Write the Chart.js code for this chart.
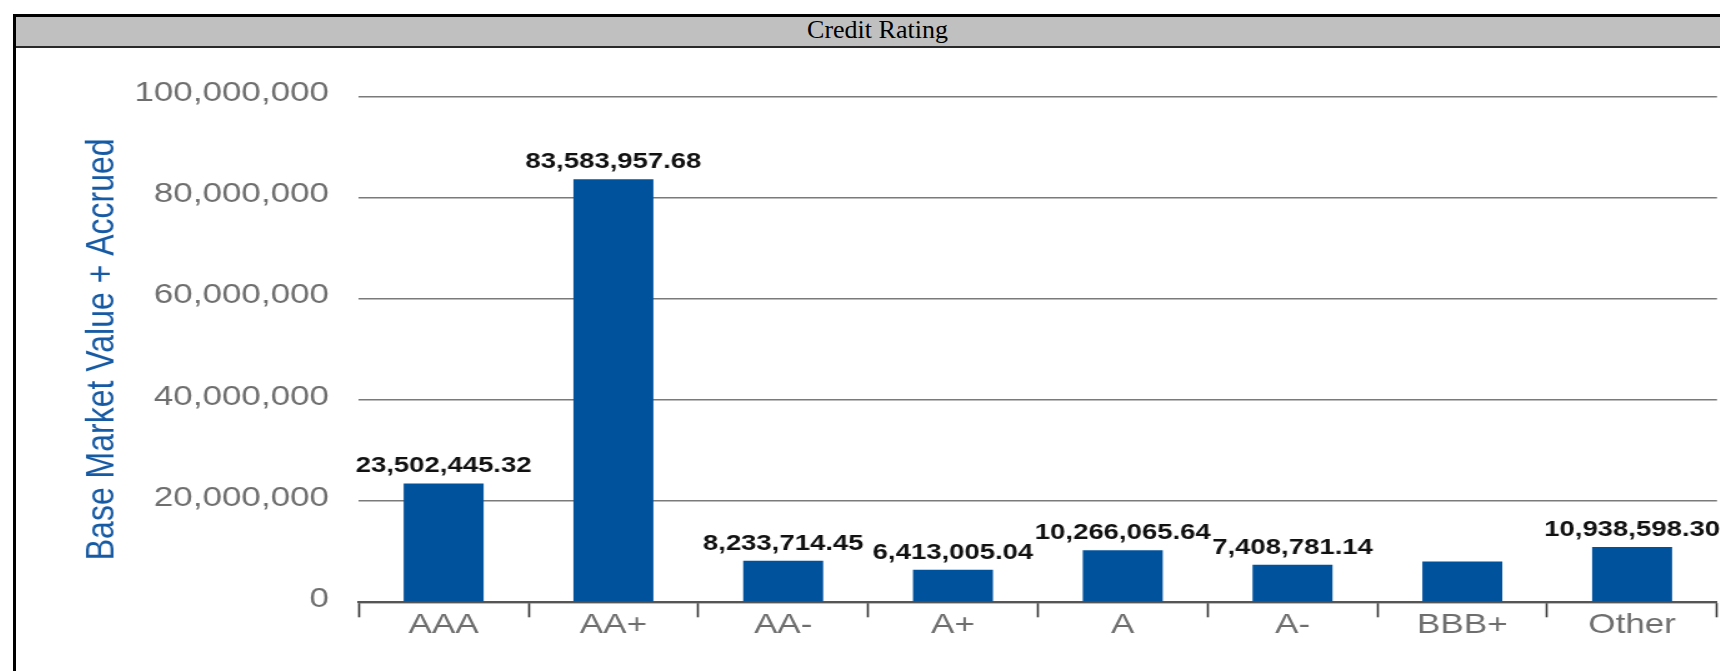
<!DOCTYPE html>
<html>
<head>
<meta charset="utf-8">
<title>Credit Rating</title>
<script src="https://cdn.jsdelivr.net/npm/chart.js@4.4.1/dist/chart.umd.min.js"></script>
<style>
    html, body { margin: 0; padding: 0; background: #fff; overflow: hidden; width: 1720px; height: 671px; }
    #quadro { position: absolute; left: 13px; top: 14px; width: 1730px; height: 700px;
              border-left: 3px solid #000; border-top: 3px solid #000; }
    #titulo { position: absolute; left: 0; top: 0; width: 1723px; height: 29px; background: #c0c0c0;
              border-bottom: 2px solid #2a2a2a; text-align: center; color: #000;
              font-family: "Liberation Serif", "Times New Roman", serif; font-size: 26px; line-height: 25px; }
    #esticado { position: absolute; left: 16px; top: 48px; width: 1380px; height: 623px;
                transform: scaleX(1.25); transform-origin: 0 0; }
</style>
</head>
<body>
<div id="quadro"><div id="titulo">Credit Rating</div></div>
<div id="esticado"><canvas id="graficoRating" width="1380" height="623"></canvas></div>

<script>
/* ============================
      DADOS
============================ */
const categorias = ["AAA", "AA+", "AA-", "A+", "A", "A-", "BBB+", "Other"];
const valores = [23502445.32, 83583957.68, 8233714.45, 6413005.04, 10266065.64, 7408781.14, 8080000, 10938598.30];
const mostrarRotulo = [true, true, true, true, true, true, false, true];
const ticksY = [0, 20000000, 40000000, 60000000, 80000000, 100000000];

const fonte = '"Liberation Sans", Arial, sans-serif';

function formato(v) {
    return v.toLocaleString("en-US", { minimumFractionDigits: 2, maximumFractionDigits: 2 });
}

/* Rótulos em cima das barras */
const rotulos = {
    id: "rotulos",
    afterDatasetsDraw(chart) {
        const ctx = chart.ctx;
        const meta = chart.getDatasetMeta(0);
        ctx.save();
        ctx.font = "bold 22px " + fonte;
        ctx.fillStyle = "#111";
        ctx.textAlign = "center";
        ctx.textBaseline = "alphabetic";
        meta.data.forEach((barra, i) => {
            if (!mostrarRotulo[i]) return;
            ctx.fillText(formato(valores[i]), barra.x, barra.y - 11);
        });
        ctx.restore();
    }
};

/* ============================
      GRÁFICO
============================ */
new Chart(document.getElementById("graficoRating"), {
    type: "bar",
    data: {
        labels: categorias,
        datasets: [{
            data: valores,
            backgroundColor: "#00529c",
            borderWidth: 0,
            categoryPercentage: 1,
            barPercentage: 0.471
        }]
    },
    options: {
        responsive: false,
        animation: false,
        layout: { padding: { top: 48.3, right: 19.2, bottom: 0, left: 0 } },
        plugins: {
            legend: { display: false },
            tooltip: { enabled: false }
        },
        scales: {
            x: {
                grid: { offset: true, drawOnChartArea: false, drawTicks: true, tickLength: 15, tickColor: "#333", tickWidth: 1.6 },
                border: { display: true, color: "#555", width: 2 },
                ticks: { color: "#6e6e6e", font: { size: 28, family: fonte }, padding: -9, maxRotation: 0, autoSkip: false },
                afterFit(scale) { scale.height = 68.7; }
            },
            y: {
                min: ticksY[0],
                max: ticksY[ticksY.length - 1],
                ticks: {
                    stepSize: ticksY[1] - ticksY[0],
                    color: "#6e6e6e",
                    font: { size: 28, family: fonte },
                    padding: 23.8,
                    labelOffset: -3,
                    callback: v => v.toLocaleString("en-US")
                },
                grid: { color: "#7a7a7a", lineWidth: 1.5, drawTicks: false },
                border: { display: false },
                title: {
                    display: true,
                    text: "Base Market Value + Accrued",
                    color: "#175aa4",
                    font: { size: 32, family: fonte },
                    padding: { top: 49.6, bottom: 0 }
                },
                afterFit(scale) { scale.width = 274.2; }
            }
        }
    },
    plugins: [rotulos]
});
</script>
</body>
</html>
